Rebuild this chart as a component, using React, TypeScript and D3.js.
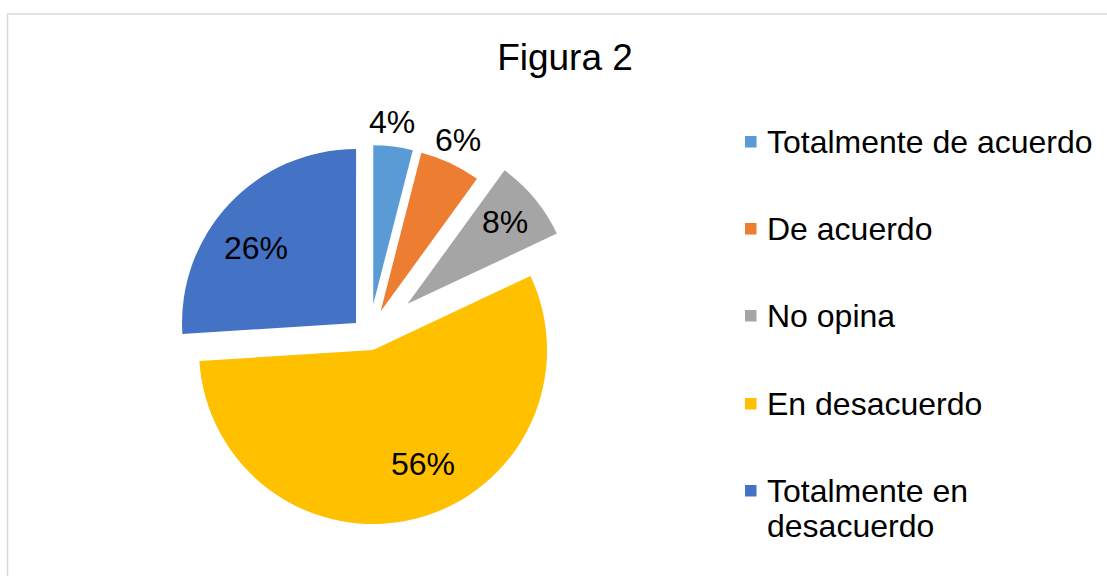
import React from "react";
import * as d3 from "d3";

// data
const categories = [
  "Totalmente de acuerdo",
  "De acuerdo",
  "No opina",
  "En desacuerdo",
  "Totalmente en desacuerdo",
];
const values = [4, 6, 8, 56, 26];
const colors = ["#5B9BD5", "#ED7D31", "#A5A5A5", "#FFC000", "#4472C4"];

// per-slice look (explode distance, radius, label spot)
const explode = [31.6, 26.5, 49.7, 15, 18.2];
const radii = [159, 164, 165, 174, 174];
const labelPos = [
  [392, 133],
  [458, 151],
  [505, 233],
  [423, 475],
  [256, 259],
];

const W = 1107;
const H = 576;
const cx = 369.3;
const cy = 335.5;
const font = "'Liberation Sans', Arial, sans-serif";

export default function App() {
  const pie = d3
    .pie<number>()
    .sort(null)
    .value((d) => d);
  const slices = pie(values);

  const legendY = [153, 240, 327, 415, 502];

  return (
    <svg
      width={W}
      height={H}
      style={{ position: "absolute", left: 0, top: 0, background: "#fff" }}
      fontFamily={font}
    >
      <rect x={7.5} y={14} width={W + 20} height={H + 20} fill="#fff" stroke="#d9d9d9" strokeWidth={1.5} />
      <text x={565} y={70} textAnchor="middle" fontSize={37} fill="#000">
        Figura 2
      </text>
      <g transform={`translate(${cx},${cy})`}>
        {slices.map((s, i) => {
          const mid = (s.startAngle + s.endAngle) / 2;
          const dx = Math.sin(mid) * explode[i];
          const dy = -Math.cos(mid) * explode[i];
          const arc = d3.arc<d3.PieArcDatum<number>>().innerRadius(0).outerRadius(radii[i]);
          return (
            <path
              key={i}
              d={arc(s) || ""}
              transform={`translate(${dx},${dy})`}
              fill={colors[i]}
            />
          );
        })}
      </g>
      {slices.map((s, i) => (
        <text key={i} x={labelPos[i][0]} y={labelPos[i][1]} textAnchor="middle" fontSize={32} fill="#000">
          {values[i]}%
        </text>
      ))}
      {categories.map((c, i) => (
        <g key={c}>
          <rect x={745} y={legendY[i] - 17} width={11.5} height={11.5} fill={colors[i]} />
          {i === 4 ? (
            <text x={767} y={legendY[i]} fontSize={32} fill="#000">
              <tspan x={767}>Totalmente en</tspan>
              <tspan x={767} dy={35}>desacuerdo</tspan>
            </text>
          ) : (
            <text x={767} y={legendY[i]} fontSize={32} fill="#000">
              {c}
            </text>
          )}
        </g>
      ))}
    </svg>
  );
}
